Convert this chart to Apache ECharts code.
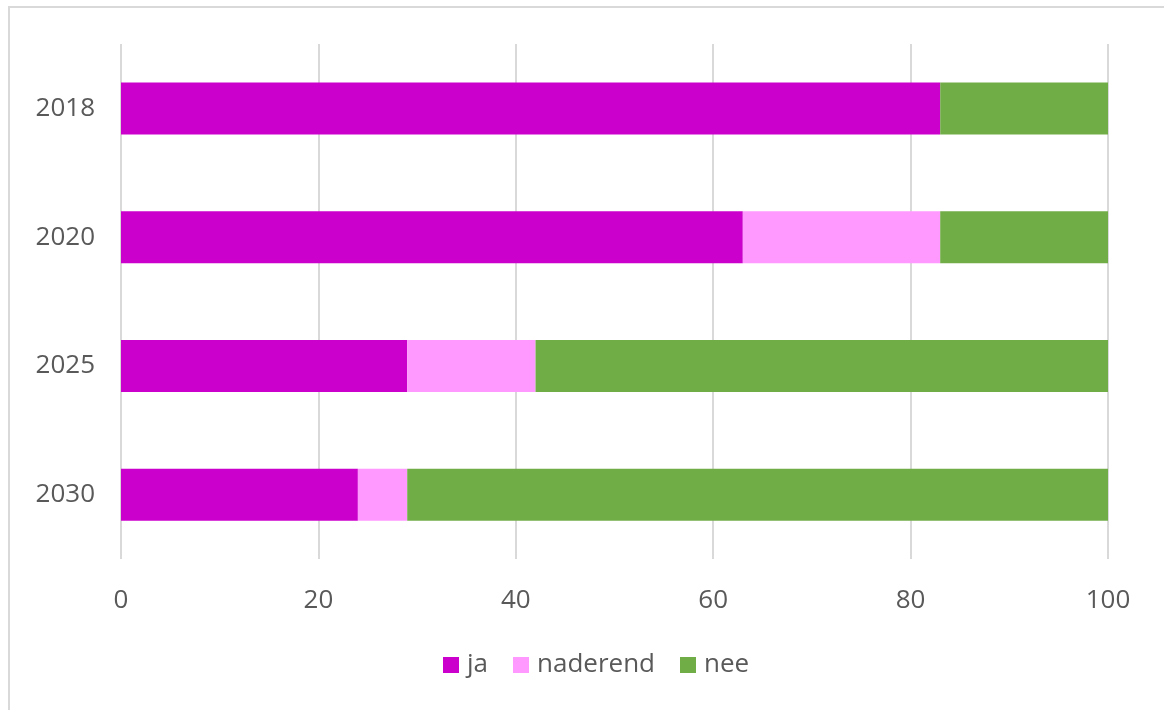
<!DOCTYPE html>
<html><head><meta charset="utf-8">
<script src="https://cdn.jsdelivr.net/npm/echarts@6/dist/echarts.min.js"></script>
<style>
html,body{margin:0;padding:0;background:#fff;}
#frame{position:absolute;left:8px;top:6px;width:1160px;height:706px;border:2px solid #d9d9d9;box-sizing:border-box;}
#chart{position:absolute;left:0;top:0;width:1164px;height:710px;}
</style></head>
<body><div id="frame"></div><div id="chart"></div>
<script>
const categories = ['2018', '2020', '2025', '2030'];
const ja = [83, 63, 29, 24];
const naderend = [0, 20, 13, 5];
const nee = [17, 17, 58, 71];
const xTicks = [0, 20, 40, 60, 80, 100];

const chart = echarts.init(document.getElementById('chart'));
const font = '"Open Sans", sans-serif';
function s(name, data, color){
  return {name, type:'bar', stack:'t', data, barWidth:52, itemStyle:{color}, emphasis:{disabled:true}};
}
chart.setOption({
  animation:false,
  grid:{left:121, right:56, top:44, bottom:151, containLabel:false},
  xAxis:{type:'value', min:xTicks[0], max:xTicks[xTicks.length-1], interval:20,
    axisLine:{show:false}, axisTick:{show:false},
    splitLine:{lineStyle:{color:'#d9d9d9', width:2}},
    axisLabel:{color:'#595959', fontSize:26, fontFamily:font, margin:29}},
  yAxis:{type:'category', data:categories, inverse:true,
    axisLine:{show:false}, axisTick:{show:false},
    axisLabel:{color:'#595959', fontSize:26, fontFamily:font, margin:26}},
  legend:{bottom:27, left:438, itemWidth:16, itemHeight:16, itemGap:25, icon:'rect',
    textStyle:{color:'#595959', fontSize:26, fontFamily:font, padding:[0,0,0,3]}},
  series:[s('ja', ja, '#CC00CC'), s('naderend', naderend, '#FF99FF'), s('nee', nee, '#70AD47')]
});
</script></body></html>
